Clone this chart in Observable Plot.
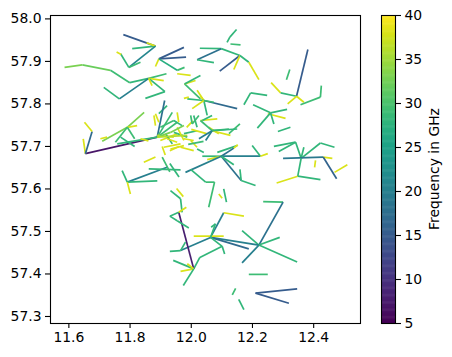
<!DOCTYPE html>
<html>
<head>
<meta charset="utf-8">
<script src="https://cdn.jsdelivr.net/npm/d3@7"></script>
<script src="https://cdn.jsdelivr.net/npm/@observablehq/plot@0.6"></script>
<style>
  body { margin: 0; background: white; }
  #wrap { position: relative; width: 452px; height: 357px; }
  #wrap svg { position: absolute; top: 0; }
</style>
</head>
<body>
<div id="wrap"></div>
<script>
// Each row: [lon1, lat1, lon2, lat2, frequency GHz]
const northWest = [
  [11.778,57.963,11.883,57.936,15],
  [11.807,57.930,11.883,57.936,28],
  [11.854,57.944,11.883,57.936,38],
  [11.883,57.936,11.796,57.886,21],
  [11.796,57.886,11.769,57.918,28],
  [11.756,57.922,11.771,57.916,38],
  [11.796,57.886,11.834,57.898,29],
  [11.894,57.906,11.976,57.933,15],
  [11.894,57.906,11.983,57.910,15],
  [11.894,57.906,11.883,57.888,38],
  [11.894,57.906,11.954,57.879,27],
  [11.954,57.879,11.978,57.886,29],
  [11.954,57.871,11.998,57.867,38],
  [11.586,57.886,11.644,57.892,33],
  [11.644,57.892,11.736,57.879,32],
  [11.736,57.879,11.799,57.850,29],
  [11.799,57.850,11.861,57.860,28],
  [11.861,57.860,11.765,57.812,20],
  [11.714,57.839,11.765,57.812,28],
  [11.861,57.860,11.919,57.871,29],
  [11.861,57.860,11.910,57.855,38],
  [11.861,57.860,11.914,57.829,28],
  [11.914,57.829,11.850,57.813,28],
  [11.861,57.860,11.872,57.843,38],
  [11.978,57.847,12.030,57.812,29],
  [11.978,57.847,12.014,57.855,38],
  [11.978,57.847,12.030,57.867,28]
];
const north = [
  [12.148,57.975,12.126,57.957,28],
  [12.126,57.957,12.117,57.945,28],
  [12.128,57.941,12.161,57.939,29],
  [12.028,57.931,12.098,57.930,28],
  [12.098,57.930,12.159,57.914,28],
  [12.019,57.904,12.098,57.930,18],
  [12.019,57.904,12.074,57.897,28],
  [12.159,57.914,12.093,57.877,15],
  [12.159,57.914,12.139,57.881,38],
  [12.159,57.914,12.188,57.898,28],
  [12.188,57.898,12.221,57.857,38],
  [12.322,57.881,12.311,57.857,29],
  [12.381,57.928,12.344,57.818,15],
  [12.261,57.850,12.292,57.826,38],
  [12.292,57.826,12.344,57.818,28],
  [12.344,57.818,12.315,57.800,38],
  [12.344,57.818,12.368,57.804,38],
  [12.357,57.798,12.422,57.816,29],
  [12.422,57.816,12.425,57.843,29],
  [12.194,57.826,12.248,57.820,28],
  [12.194,57.826,12.172,57.798,28],
  [12.202,57.798,12.259,57.779,28],
  [12.259,57.779,12.313,57.787,28],
  [12.250,57.777,12.308,57.766,38],
  [12.259,57.779,12.216,57.743,28],
  [12.259,57.779,12.270,57.753,28],
  [12.283,57.735,12.324,57.745,28]
];
const star = [
  [12.041,57.808,12.150,57.789,17],
  [12.041,57.808,12.019,57.832,38],
  [12.041,57.808,12.030,57.818,38],
  [12.041,57.808,11.987,57.812,28],
  [12.041,57.808,12.074,57.804,29],
  [12.041,57.808,12.052,57.773,28],
  [12.041,57.808,12.003,57.789,38],
  [11.976,57.813,11.992,57.816,38],
  [11.921,57.796,11.894,57.777,28],
  [11.913,57.808,11.889,57.723,18],
  [11.654,57.683,11.889,57.722,7],
  [11.654,57.683,11.647,57.718,38],
  [11.654,57.683,11.676,57.735,17],
  [11.676,57.735,11.651,57.757,38],
  [11.709,57.712,11.791,57.745,33],
  [11.791,57.745,11.846,57.780,33],
  [11.791,57.745,11.823,57.749,38],
  [11.791,57.745,11.752,57.710,29],
  [11.791,57.745,11.815,57.718,29],
  [11.703,57.718,11.725,57.722,38],
  [11.758,57.706,11.889,57.722,28],
  [11.769,57.722,11.815,57.700,28],
  [11.834,57.718,11.860,57.713,38],
  [11.878,57.773,11.883,57.749,38],
  [11.889,57.722,11.954,57.757,29],
  [11.889,57.722,11.938,57.780,29]
];
const core = [
  [11.889,57.726,11.943,57.722,38],
  [11.899,57.714,11.954,57.730,38],
  [11.910,57.698,11.965,57.706,38],
  [11.916,57.730,11.938,57.706,28],
  [11.943,57.733,11.987,57.722,29],
  [11.954,57.745,11.976,57.714,38],
  [11.965,57.698,12.008,57.690,38],
  [11.976,57.730,12.019,57.737,28],
  [11.998,57.714,12.019,57.698,38],
  [12.008,57.773,12.019,57.745,28],
  [11.883,57.777,11.894,57.757,38],
  [12.030,57.761,12.085,57.765,38],
  [12.057,57.745,12.090,57.730,38],
  [12.123,57.730,12.159,57.753,29],
  [11.845,57.663,11.883,57.675,38],
  [11.899,57.745,11.943,57.761,29],
  [11.943,57.761,11.970,57.749,28],
  [11.954,57.780,11.959,57.757,38],
  [12.036,57.761,12.068,57.773,28],
  [11.930,57.690,11.960,57.700,38],
  [11.990,57.705,12.040,57.712,29],
  [12.000,57.740,12.050,57.730,38],
  [11.905,57.700,11.915,57.680,38],
  [11.985,57.745,12.005,57.760,38],
  [12.068,57.737,12.025,57.718,20],
  [12.068,57.737,12.030,57.761,29],
  [12.068,57.737,12.123,57.741,29],
  [12.068,57.737,12.128,57.726,38],
  [12.068,57.737,12.150,57.741,28],
  [12.068,57.737,12.047,57.714,20],
  [11.998,57.773,12.003,57.753,29],
  [12.003,57.753,12.025,57.773,29],
  [11.889,57.722,11.932,57.733,33],
  [11.932,57.733,11.976,57.749,33],
  [11.889,57.722,11.987,57.726,36],
  [11.921,57.718,11.954,57.710,38],
  [11.932,57.694,11.976,57.702,38],
  [11.976,57.718,12.008,57.714,38],
  [12.019,57.694,12.041,57.686,28],
  [12.085,57.686,12.150,57.702,28]
];
const middle = [
  [12.098,57.677,12.036,57.677,28],
  [12.098,57.677,12.052,57.669,38],
  [12.098,57.677,12.139,57.696,18],
  [12.139,57.696,12.152,57.704,38],
  [12.098,57.677,12.226,57.677,20],
  [12.226,57.677,12.199,57.702,28],
  [12.226,57.677,12.250,57.683,38],
  [12.098,57.677,12.163,57.620,18],
  [12.163,57.620,12.159,57.646,28],
  [12.163,57.620,12.210,57.608,28],
  [12.098,57.677,12.139,57.657,28],
  [12.098,57.677,11.981,57.639,20],
  [11.791,57.616,11.921,57.651,20],
  [11.791,57.616,11.889,57.619,28],
  [11.791,57.616,11.774,57.643,28],
  [11.791,57.616,11.801,57.588,38],
  [11.861,57.647,11.965,57.645,28],
  [11.905,57.675,11.930,57.640,29],
  [11.930,57.660,11.960,57.628,28],
  [11.932,57.596,11.965,57.577,28],
  [11.965,57.577,11.970,57.545,28],
  [11.952,57.601,11.974,57.582,38],
  [11.998,57.646,12.047,57.616,28]
];
const east = [
  [12.270,57.700,12.341,57.710,28],
  [12.286,57.688,12.341,57.710,28],
  [12.341,57.710,12.359,57.672,28],
  [12.359,57.672,12.368,57.698,28],
  [12.359,57.672,12.422,57.708,28],
  [12.422,57.708,12.468,57.698,28],
  [12.300,57.672,12.431,57.675,19],
  [12.431,57.675,12.461,57.672,38],
  [12.431,57.675,12.475,57.624,16],
  [12.359,57.672,12.348,57.630,28],
  [12.348,57.630,12.279,57.614,38],
  [12.348,57.630,12.422,57.622,28],
  [12.468,57.639,12.510,57.657,38],
  [12.406,57.667,12.403,57.651,38]
];
const south = [
  [12.106,57.600,12.115,57.569,28],
  [12.090,57.588,12.101,57.578,38],
  [12.076,57.616,12.057,57.557,29],
  [12.047,57.616,12.076,57.616,29],
  [12.235,57.570,12.300,57.569,29],
  [12.300,57.569,12.221,57.468,18],
  [12.221,57.468,12.166,57.426,20],
  [12.166,57.502,12.221,57.468,28],
  [12.221,57.468,12.346,57.428,28],
  [12.221,57.468,12.289,57.486,28],
  [12.063,57.486,12.221,57.468,20],
  [12.063,57.486,12.188,57.459,17],
  [12.063,57.486,12.106,57.544,20],
  [12.106,57.544,12.172,57.536,38],
  [12.008,57.489,12.106,57.489,38],
  [11.965,57.455,12.063,57.486,20],
  [12.063,57.486,12.079,57.518,28],
  [12.079,57.518,12.065,57.510,28],
  [12.063,57.486,12.101,57.465,28],
  [12.101,57.465,12.109,57.447,28],
  [12.008,57.412,12.028,57.439,28],
  [12.028,57.439,12.101,57.465,28],
  [12.188,57.399,12.250,57.399,29],
  [12.145,57.366,12.134,57.351,29],
  [12.155,57.340,12.172,57.316,28],
  [12.210,57.355,12.346,57.365,15],
  [12.210,57.355,12.319,57.331,15],
  [11.959,57.545,12.008,57.412,8],
  [11.959,57.545,11.930,57.536,28],
  [11.930,57.536,11.954,57.525,28],
  [11.954,57.525,11.992,57.508,28],
  [11.959,57.545,11.984,57.557,38],
  [11.930,57.453,11.965,57.455,28],
  [11.965,57.455,11.981,57.475,28],
  [11.941,57.432,12.008,57.412,28],
  [11.965,57.406,12.008,57.412,38],
  [11.987,57.424,12.008,57.412,38],
  [12.008,57.412,11.974,57.373,28]
];

const xTicks = [11.6, 11.8, 12.0, 12.2, 12.4];
const yTicks = [57.3, 57.4, 57.5, 57.6, 57.7, 57.8, 57.9, 58.0];
const cbTicks = [5, 10, 15, 20, 25, 30, 35, 40];
const freqDomain = [5, 40];
const colorLabel = "Frequency in GHz";

const links = [...northWest, ...north, ...star, ...core, ...middle, ...east, ...south]
  .map(([lon1, lat1, lon2, lat2, ghz]) => ({lon1, lat1, lon2, lat2, ghz}));

const font = {fontFamily: "DejaVu Sans", fontSize: "13.9px", color: "black", background: "transparent", overflow: "visible"};

const main = Plot.plot({
  width: 452, height: 357,
  marginLeft: 50, marginRight: 92, marginTop: 15, marginBottom: 34,
  x: {domain: [11.540, 12.553], label: null},
  y: {domain: [57.2835, 58.008], label: null},
  color: {type: "linear", scheme: "viridis", domain: freqDomain},
  style: font,
  marks: [
    Plot.link(links, {x1: "lon1", y1: "lat1", x2: "lon2", y2: "lat2", stroke: "ghz", strokeWidth: 1.7}),
    Plot.frame({stroke: "black", strokeWidth: 1.1}),
    Plot.axisX(xTicks, {tickSize: 5, tickPadding: 4, tickFormat: d3.format(".1f"), label: null, strokeWidth: 1.1}),
    Plot.axisY(yTicks, {tickSize: 5, tickPadding: 4, tickFormat: d3.format(".1f"), label: null, strokeWidth: 1.1})
  ]
});

const steps = d3.range(freqDomain[0], freqDomain[1], 0.1);
const cb = Plot.plot({
  width: 92, height: 357,
  marginLeft: 21, marginRight: 57, marginTop: 15, marginBottom: 34,
  x: {domain: [0, 1], axis: null},
  y: {domain: freqDomain, label: null},
  color: {type: "linear", scheme: "viridis", domain: freqDomain},
  style: font,
  marks: [
    Plot.rect(steps, {x1: () => 0, x2: () => 1, y1: d => d, y2: d => Math.min(d + 0.16, 40), fill: d => d + 0.05}),
    Plot.frame({stroke: "black", strokeWidth: 1.1}),
    Plot.axisY(cbTicks, {anchor: "right", tickSize: 5, tickPadding: 4, label: null, strokeWidth: 1.1})
  ]
});
d3.select(cb).append("text")
  .attr("transform", "translate(73.5,169) rotate(-90)")
  .attr("text-anchor", "middle")
  .attr("dominant-baseline", "central")
  .attr("fill", "black")
  .style("font-family", "DejaVu Sans")
  .style("font-size", "13.9px")
  .text(colorLabel);

const wrap = document.getElementById("wrap");
main.style.left = "0px";
cb.style.left = "360px";
wrap.appendChild(main);
wrap.appendChild(cb);
</script>
</body>
</html>
